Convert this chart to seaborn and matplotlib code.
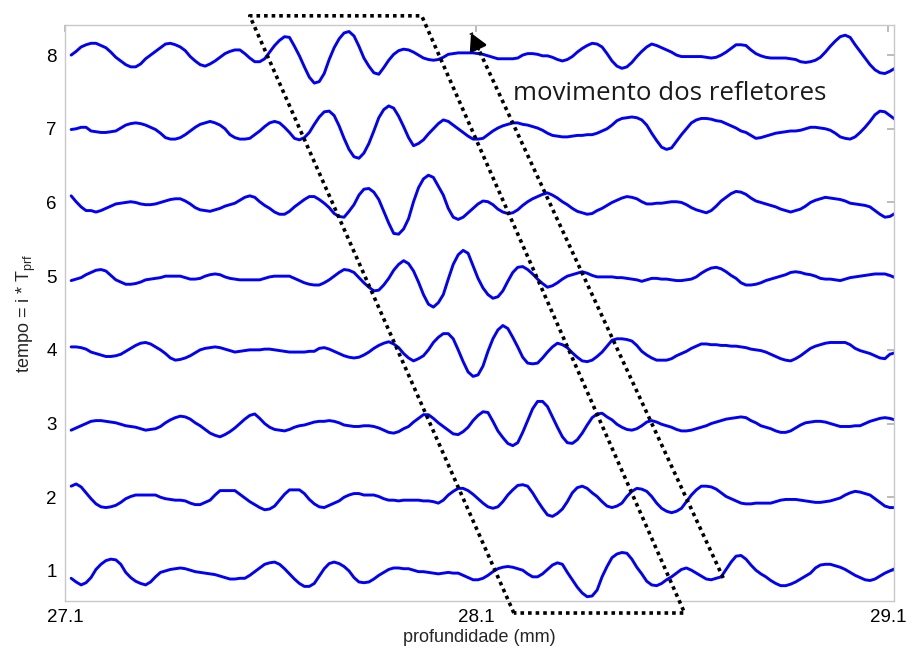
import numpy as np
import pandas as pd
import seaborn as sns
import matplotlib.pyplot as plt

sns.set_theme(style="white")
plt.rcParams['font.family'] = ['Liberation Sans', 'DejaVu Sans']
plt.rcParams['mathtext.fontset'] = 'custom'
plt.rcParams['mathtext.rm'] = 'Liberation Sans'
plt.rcParams['mathtext.it'] = 'Liberation Sans'

# RF amplitude of each frame (offset i added later), one sample every ~0.012 mm
# from 27.115 to 29.117 mm
amp_1 = [-.10, -.15, -.19, -.16, -.09, .02, .09, .14, .16, .15,
         .09, -.02, -.09, -.14, -.17, -.19, -.15, -.08, -.02, 0,
         .02, .03, .04, .03, .01, -.01, -.02, -.03, -.04, -.05,
         -.07, -.09, -.11, -.11, -.10, -.10, -.06, -.01, .04, .09,
         .11, .12, .09, .03, -.04, -.11, -.17, -.21, -.21, -.17,
         -.07, .03, .10, .12, .10, .06, 0, -.09, -.15, -.16,
         -.15, -.11, -.06, -.02, .02, .04, .04, .03, .03, .01,
         -.01, -.01, -.02, -.03, -.04, -.03, -.02, -.03, -.03, -.06,
         -.09, -.12, -.12, -.10, -.06, -.01, .03, .05, .06, .05,
         .03, .01, -.04, -.08, -.08, -.04, .02, .08, .11, .09,
         -.02, -.12, -.22, -.30, -.35, -.34, -.26, -.08, .06, .18,
         .23, .25, .24, .16, .05, -.04, -.14, -.19, -.20, -.17,
         -.12, -.08, -.03, .02, .04, .01, -.03, -.07, -.11, -.12,
         -.10, -.08, .02, .12, .20, .21, .16, .08, .01, -.04,
         -.08, -.13, -.17, -.20, -.20, -.18, -.15, -.11, -.07, -.03,
         .04, .08, .09, .09, .07, .05, .02, -.02, -.06, -.09,
         -.12, -.13, -.11, -.07, -.03, 0, .03]
amp_2 = [.15, .18, .14, .06, -.02, -.09, -.13, -.14, -.13, -.11,
         -.07, -.02, .01, .03, .03, .03, .03, .03, 0, -.02,
         -.03, -.04, -.04, -.05, -.08, -.10, -.10, -.07, -.04, .03,
         .09, .09, .09, .09, .04, -.01, -.06, -.10, -.14, -.17,
         -.16, -.12, -.04, .04, .10, .10, .10, .05, -.03, -.09,
         -.13, -.14, -.11, -.08, -.05, 0, .03, .05, .05, .03,
         .03, .03, .01, -.02, -.04, -.04, -.05, -.04, -.04, -.04,
         -.04, -.05, -.05, -.06, -.08, -.04, .03, .08, .12, .12,
         .09, .04, -.02, -.08, -.13, -.15, -.13, -.06, .03, .10,
         .16, .17, .15, .06, -.05, -.15, -.24, -.26, -.22, -.16,
         -.06, .06, .13, .15, .12, .06, .01, -.06, -.12, -.14,
         -.12, -.08, .01, .08, .12, .11, .08, .01, -.08, -.15,
         -.19, -.21, -.19, -.15, -.06, .03, .10, .15, .15, .14,
         .11, .06, .01, -.02, -.05, -.08, -.09, -.09, -.08, -.08,
         -.08, -.08, -.06, -.04, -.03, -.03, -.03, -.04, -.05, -.06,
         -.07, -.07, -.06, -.05, -.03, -.01, .03, .06, .08, .07,
         .05, .03, -.02, -.07, -.12, -.14, -.14]
amp_3 = [-.09, -.06, -.03, 0, .03, .04, .04, .03, .02, .01,
         -.01, -.03, -.04, -.05, -.07, -.09, -.08, -.07, -.04, .01,
         .05, .08, .10, .09, .06, .01, -.03, -.08, -.13, -.16,
         -.18, -.15, -.11, -.06, 0, .06, .11, .13, .07, 0,
         -.05, -.08, -.09, -.10, -.08, -.05, -.03, -.02, 0, .02,
         .03, .03, .04, .03, .01, -.02, -.03, -.04, -.04, -.03,
         -.03, -.04, -.06, -.09, -.12, -.13, -.11, -.07, -.04, .02,
         .07, .12, .12, .07, .01, -.04, -.09, -.14, -.15, -.11,
         -.05, .04, .11, .16, .15, .03, -.10, -.19, -.27, -.30,
         -.26, -.12, .04, .20, .30, .30, .23, .09, -.05, -.18,
         -.26, -.27, -.22, -.13, -.02, .08, .13, .14, .09, .05,
         -.01, -.05, -.08, -.09, -.07, -.03, .02, .04, .02, -.01,
         -.03, -.05, -.08, -.10, -.10, -.09, -.07, -.05, -.03, 0,
         .02, .04, .06, .07, .08, .09, .08, .04, .01, -.03,
         -.05, -.07, -.10, -.12, -.12, -.10, -.06, -.02, .01, .02,
         .03, .03, .02, 0, -.02, -.04, -.04, -.04, -.03, -.03,
         0, .03, .05, .07, .08, .07, .05]
amp_4 = [.04, .04, .03, .01, -.03, -.05, -.07, -.09, -.09, -.08,
         -.06, -.02, .02, .06, .09, .10, .08, .04, 0, -.05,
         -.11, -.14, -.13, -.11, -.08, -.04, 0, .02, .03, .04,
         .03, .01, -.01, -.03, -.02, -.01, 0, 0, 0, .01,
         .01, 0, -.01, -.02, -.03, -.03, -.03, -.03, -.02, -.02,
         .02, .03, .01, -.02, -.05, -.08, -.10, -.11, -.10, -.07,
         -.03, .02, .06, .09, .11, .08, .03, -.05, -.11, -.15,
         -.12, -.08, 0, .10, .17, .22, .22, .15, 0, -.16,
         -.30, -.36, -.34, -.22, -.02, .15, .27, .33, .29, .17,
         .04, -.10, -.18, -.19, -.18, -.11, -.03, .04, .09, .07,
         .03, -.04, -.10, -.15, -.16, -.14, -.09, -.03, .05, .13,
         .15, .15, .14, .12, .06, -.02, -.07, -.11, -.14, -.14,
         -.14, -.12, -.08, -.05, -.02, .02, .05, .08, .08, .07,
         .07, .06, .06, .05, .05, .04, .03, .01, 0, -.01,
         -.03, -.06, -.09, -.12, -.14, -.15, -.12, -.08, -.03, .02,
         .05, .07, .09, .10, .10, .10, .10, .07, .02, -.01,
         -.03, -.05, -.08, -.11, -.12, -.06, -.04]
amp_5 = [-.06, -.04, -.02, .02, .05, .08, .09, .07, .01, -.05,
         -.08, -.11, -.11, -.10, -.08, -.05, -.04, -.03, -.02, 0,
         0, 0, 0, -.02, -.04, -.04, -.03, 0, .02, .03,
         .02, -.01, -.03, -.04, -.05, -.05, -.05, -.05, -.05, -.03,
         -.01, 0, 0, 0, 0, -.03, -.06, -.09, -.11, -.12,
         -.12, -.09, -.05, 0, .05, .09, .08, .05, -.02, -.09,
         -.15, -.20, -.19, -.12, -.03, .08, .16, .21, .17, .07,
         -.08, -.25, -.38, -.42, -.36, -.25, -.04, .16, .29, .35,
         .31, .14, -.03, -.16, -.25, -.30, -.28, -.20, -.07, .05,
         .12, .13, .09, .03, -.04, -.10, -.15, -.13, -.09, -.04,
         0, .02, .04, .06, .04, .01, -.01, -.01, -.01, -.01,
         -.02, -.02, -.03, -.04, -.05, -.07, -.05, -.03, -.03, -.04,
         -.04, -.05, -.06, -.06, -.05, -.04, -.01, .04, .08, .11,
         .12, .10, .06, .01, -.03, -.09, -.12, -.12, -.11, -.09,
         -.06, -.04, -.02, 0, .02, .05, .06, .05, .03, .02,
         0, -.03, -.04, -.04, -.05, -.06, -.04, -.02, -.01, 0,
         .01, .02, .03, .03, .03, .01, -.02]
amp_6 = [.09, .01, -.06, -.11, -.11, -.13, -.11, -.08, -.05, -.02,
         -.01, 0, .01, 0, -.02, -.03, -.03, -.02, 0, .02,
         .04, .05, .05, .02, -.02, -.07, -.10, -.11, -.12, -.10,
         -.08, -.05, -.03, -.01, .03, .07, .09, .07, .01, -.04,
         -.08, -.13, -.16, -.16, -.12, -.06, -.01, .04, .08, .08,
         .04, -.01, -.07, -.15, -.19, -.20, -.12, -.03, .10, .18,
         .19, .14, .04, -.12, -.28, -.42, -.43, -.36, -.22, .01,
         .20, .32, .37, .34, .22, .10, -.08, -.20, -.23, -.20,
         -.14, -.08, -.02, .02, .01, -.03, -.09, -.13, -.15, -.14,
         -.10, -.04, .01, .05, .08, .11, .13, .10, .06, .01,
         -.03, -.08, -.12, -.14, -.16, -.15, -.11, -.08, -.04, 0,
         .03, .06, .08, .07, .05, .01, -.02, -.02, -.01, -.01,
         0, .01, .01, 0, -.03, -.07, -.10, -.12, -.14, -.11,
         -.05, .02, .07, .12, .15, .14, .11, .06, .02, 0,
         -.02, -.04, -.06, -.09, -.11, -.13, -.11, -.09, -.05, 0,
         .03, .05, .07, .06, .05, .04, .02, -.01, -.02, -.03,
         -.04, -.06, -.11, -.16, -.20, -.19, -.15]
amp_7 = [-.01, 0, .02, .02, -.03, -.04, -.05, -.05, -.04, -.03,
         .01, .05, .07, .08, .07, .05, .02, -.01, -.06, -.12,
         -.14, -.14, -.12, -.08, -.03, .02, .06, .08, .10, .08,
         .05, 0, -.08, -.12, -.14, -.14, -.13, -.08, -.03, .03,
         .08, .10, .08, .02, -.05, -.13, -.15, -.12, -.05, .06,
         .16, .23, .24, .18, .04, -.13, -.28, -.38, -.40, -.33,
         -.20, -.03, .15, .26, .31, .28, .17, .03, -.12, -.23,
         -.20, -.15, -.07, 0, .07, .12, .10, .05, 0, -.05,
         -.10, -.14, -.14, -.13, -.08, -.03, .01, .04, .06, .08,
         .08, .06, .05, .03, .01, -.02, -.06, -.09, -.10, -.11,
         -.11, -.10, -.09, -.09, -.08, -.08, -.06, -.03, 0, .05,
         .11, .14, .15, .16, .15, .12, .05, -.06, -.16, -.25,
         -.28, -.26, -.17, -.08, 0, .08, .12, .14, .14, .13,
         .11, .10, .07, .04, .01, -.03, -.05, -.09, -.13, -.12,
         -.10, -.08, -.06, -.05, -.04, -.03, -.03, -.02, 0, .02,
         .02, .01, 0, -.02, -.06, -.11, -.13, -.14, -.11, -.05,
         .02, .10, .19, .24, .23, .18, .13]
amp_8 = [0, .05, .11, .14, .16, .16, .13, .10, .04, -.03,
         -.08, -.13, -.16, -.16, -.12, -.05, 0, .05, .10, .15,
         .16, .14, .11, .06, -.02, -.08, -.13, -.15, -.12, -.08,
         -.03, .02, .05, .07, .07, .02, -.04, -.09, -.09, -.05,
         .04, .13, .20, .25, .24, .12, -.01, -.16, -.30, -.38,
         -.36, -.25, -.06, .10, .22, .30, .32, .26, .12, -.04,
         -.15, -.24, -.26, -.17, -.07, .01, .06, .08, .07, .04,
         0, -.04, -.06, -.07, -.06, -.03, .01, .02, .03, .03,
         .03, .03, .02, .01, -.01, -.03, -.05, -.05, -.05, -.05,
         -.04, 0, .02, .02, .01, -.01, -.01, -.03, -.06, -.08,
         -.06, -.02, .04, .09, .13, .16, .15, .11, .02, -.08,
         -.15, -.18, -.16, -.10, -.02, .05, .11, .15, .13, .10,
         .07, .04, 0, -.02, -.02, -.02, -.02, -.02, -.03, -.04,
         -.03, 0, .04, .09, .14, .14, .13, .07, .02, -.01,
         -.03, -.04, -.04, -.04, -.04, -.05, -.06, -.09, -.10, -.09,
         -.07, -.03, .04, .12, .19, .25, .27, .24, .14, .05,
         -.04, -.13, -.20, -.24, -.25, -.22, -.18]

frames = [1, 2, 3, 4, 5, 6, 7, 8]
amps = [amp_1, amp_2, amp_3, amp_4, amp_5, amp_6, amp_7, amp_8]

# dotted box around the moving reflectors and the arrow (data coords)
box_x = [28.191, 27.549, 27.967, 28.606, 28.191]
box_y = [0.429, 8.533, 8.533, 0.429, 0.429]
arrow_tail = (28.700, 0.904)
arrow_tip = (28.087, 8.300)

rows = []
for i, a in zip(frames, amps):
    depth = np.linspace(27.115, 29.117, len(a))
    for d, v in zip(depth, a):
        rows.append({"depth": d, "tempo": i + v, "frame": i})
df = pd.DataFrame(rows)

fig = plt.figure(figsize=(9.09, 6.5), dpi=100)
ax = fig.add_axes([0.0715, 0.0754, 0.912, 0.886])

sns.lineplot(data=df, x="depth", y="tempo", hue="frame", palette=["#0000ff"] * 8,
             estimator=None, sort=False, legend=False, linewidth=2.1, ax=ax)
for ln in ax.get_lines():
    ln.set_solid_joinstyle("round")

# dotted parallelogram + arrow
dots = (0, (1, 1.1))
ax.plot(box_x, box_y, color="black", linestyle=dots, linewidth=2.6,
        clip_on=False, zorder=5)
ax.plot([arrow_tail[0], arrow_tip[0]], [arrow_tail[1], arrow_tip[1]], color="black",
        linestyle=dots, linewidth=2.6, clip_on=False, zorder=5)
back = (arrow_tip[0] + 0.03 * (arrow_tail[0] - arrow_tip[0]),
        arrow_tip[1] + 0.03 * (arrow_tail[1] - arrow_tip[1]))
ax.annotate("", xy=arrow_tip, xytext=back,
            arrowprops=dict(arrowstyle="-|>,head_length=0.55,head_width=0.3",
                            color="black", lw=2, mutation_scale=18, shrinkA=0, shrinkB=0))

ax.text(28.189, 7.48, "movimento dos refletores", fontsize=18.6, color="#1a1a1a",
        family=["Open Sans", "DejaVu Sans"], ha="left", va="center")

ax.set_xlim(27.115, 29.115)
ax.set_ylim(0.592, 8.407)
ax.set_xticks([27.1, 28.1, 29.1])
ax.set_xticklabels(["27.1", "28.1", "29.1"])
ax.set_yticks(frames)
ax.set_xlabel("profundidade (mm)", fontsize=13, labelpad=2)
ax.set_ylabel(r"tempo = i * T$_{\mathrm{prf}}$", fontsize=13, labelpad=6)

ax.tick_params(direction="in", length=5, color="#b4b4b4", labelsize=13.5,
               top=True, right=True, labelcolor="black", pad=6)
for s in ax.spines.values():
    s.set_color("#c8c8c8")
    s.set_linewidth(1.0)

fig.savefig("out.png", dpi=100)
